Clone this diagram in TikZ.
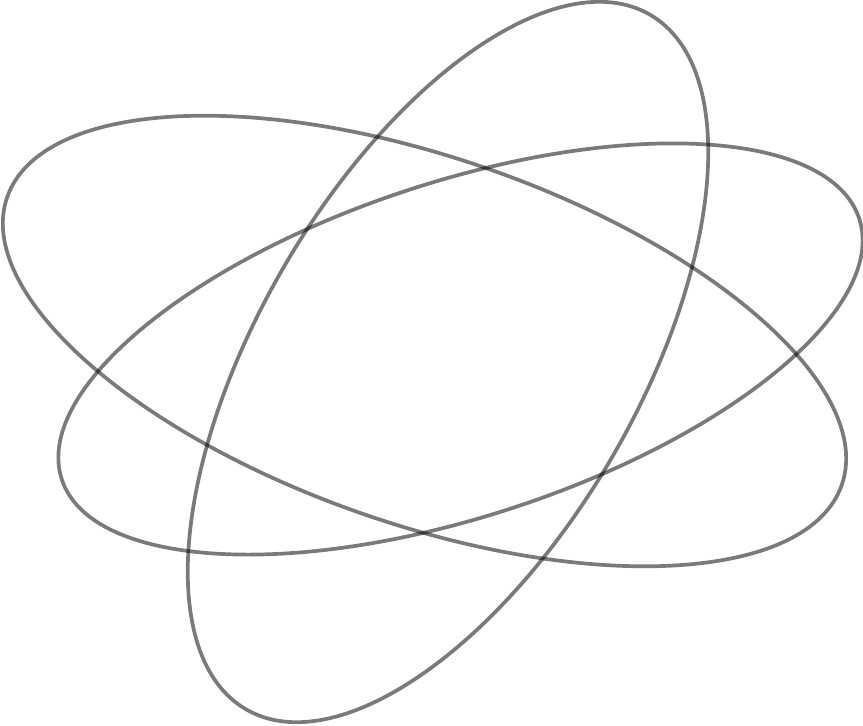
\documentclass[tikz,border=0pt]{standalone}
\begin{document}
\begin{tikzpicture}[x=1pt,y=-1pt,
  orbit/.style={draw=black, draw opacity=0.52, line width=3.7pt}]
\useasboundingbox (0,0) rectangle (863,726);
\draw[orbit, shift={(424.5,341)}, rotate=-19] (0,0) ellipse [x radius=441.4pt, y radius=183.5pt];
\draw[orbit, shift={(460.5,349)}, rotate=18.1] (0,0) ellipse [x radius=419.5pt, y radius=167.3pt];
\draw[orbit, shift={(448,362)}, rotate=59.8] (0,0) ellipse [x radius=401.8pt, y radius=189.7pt];
\end{tikzpicture}
\end{document}
